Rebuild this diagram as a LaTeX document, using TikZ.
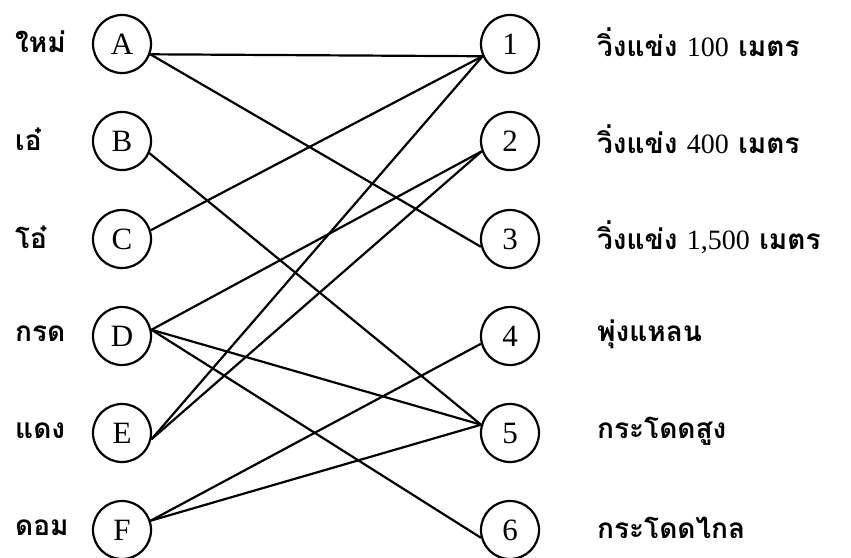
\documentclass[tikz,border=0pt]{standalone}
\usepackage{fontspec}
\setmainfont{Liberation Serif}
\newfontfamily\thaifont[Script=Thai]{Loma}
\usepackage{tikz}
\usetikzlibrary{calc,positioning}

\begin{document}
\begin{tikzpicture}[x=1pt,y=-1pt,
  vtx/.style={circle,draw,line width=2.2pt,minimum size=58pt,inner sep=0pt,font=\fontsize{31}{34}\selectfont},
  lbl/.style={anchor=west,inner sep=0pt,font=\fontsize{28}{31}\selectfont\thaifont\bfseries},
  edge/.style={line width=2.2pt}]
\useasboundingbox (0,0) rectangle (851,557);
% people
\node[vtx] (A) at (122,44) {A};
\node[vtx] (B) at (122,141) {B};
\node[vtx] (C) at (122,239) {C};
\node[vtx] (D) at (122,336) {D};
\node[vtx] (E) at (122,433) {E};
\node[vtx] (F) at (122,530) {F};
\node[lbl] (nA) at (15,42) {ใหม่};
\node[lbl] (nB) at (15,139) {เอ๋};
\node[lbl] (nC) at (15,237) {โอ๋};
\node[lbl] (nD) at (15,334) {กรด};
\node[lbl] (nE) at (15,431) {แดง};
\node[lbl] (nF) at (15,528) {ดอม};
% events
\node[vtx] (1) at (510,44) {1};
\node[vtx] (2) at (510,141) {2};
\node[vtx] (3) at (510,239) {3};
\node[vtx] (4) at (510,336) {4};
\node[vtx] (5) at (510,433) {5};
\node[vtx] (6) at (510,530) {6};
\node[lbl] (e1) at (597,42) {วิ่งแข่ง {\rmfamily\mdseries 100} เมตร};
\node[lbl] (e2) at (597,139) {วิ่งแข่ง {\rmfamily\mdseries 400} เมตร};
\node[lbl] (e3) at (597,237) {วิ่งแข่ง {\rmfamily\mdseries 1,500} เมตร};
\node[lbl] (e4) at (597,334) {พุ่งแหลน};
\node[lbl] (e5) at (597,431) {กระโดดสูง};
\node[lbl] (e6) at (597,528) {กระโดดไกล};
% choices
\draw[edge] (A.-20) -- (1.204);
\draw[edge] (A.-20) -- (3.195);
\draw[edge] (B.-24) -- (5.164);
\draw[edge] (C.17) -- (1.204);
\draw[edge] (D.12) -- (2.200);
\draw[edge] (D.12) -- (5.164);
\draw[edge] (D.12) -- (6.195);
\draw[edge] (E.-12) -- (1.204);
\draw[edge] (E.-12) -- (2.200);
\draw[edge] (F.18) -- (4.195);
\draw[edge] (F.18) -- (5.164);
\end{tikzpicture}
\end{document}
